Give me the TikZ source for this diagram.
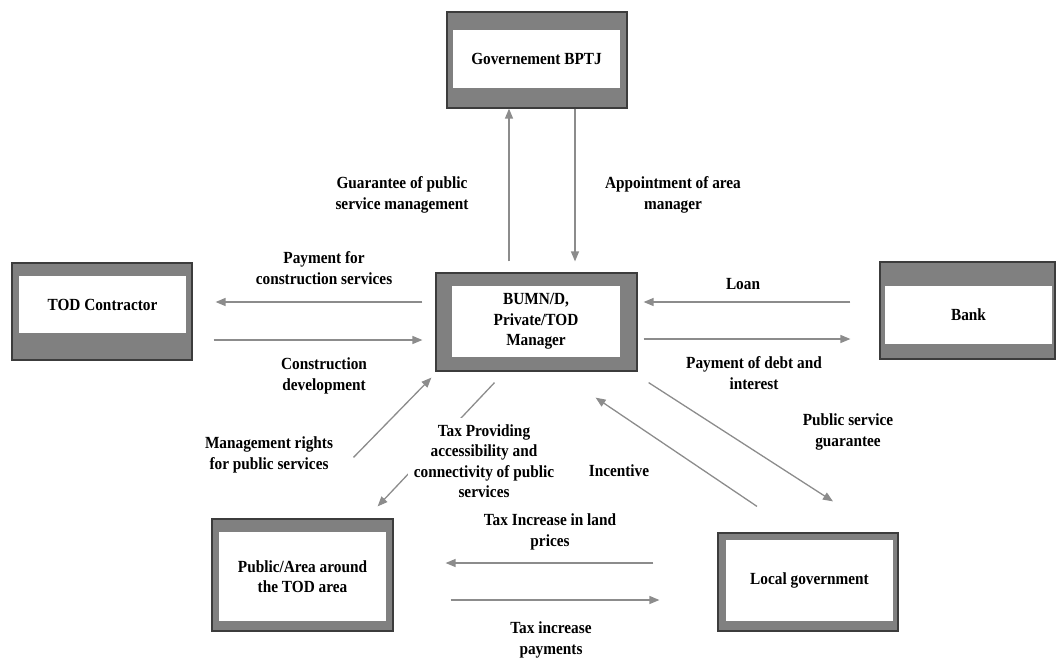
\documentclass[tikz,border=0pt]{standalone}
\usepackage{fontspec}
\setmainfont{Liberation Serif}[FakeStretch=0.9]
\usetikzlibrary{arrows.meta}
\definecolor{boxgray}{RGB}{128,128,128}
\definecolor{edgegray}{RGB}{60,60,60}
\definecolor{flowgray}{RGB}{140,140,140}

\begin{document}
\begin{tikzpicture}[x=1pt, y=-1pt, >={Triangle[length=10pt,width=8pt]},
  outer/.style 2 args={draw=edgegray, line width=1.2pt, fill=boxgray, inner sep=0pt, minimum width=#1, minimum height=#2},
  inner/.style 2 args={fill=white, inner sep=0pt, minimum width=#1, minimum height=#2, align=center, font=\bfseries\fontsize{17}{20.5}\selectfont},
  flow/.style={->, draw=flowgray, line width=1.3pt},
  lbl/.style={align=center, inner sep=1pt, font=\bfseries\fontsize{17}{20.5}\selectfont}]
\useasboundingbox (0,0) rectangle (1056,659);
% boxes
\node[outer={180pt}{96pt}] (gov) at (537,60) {};
\node[inner={167pt}{58pt}] (govtxt) at (536.5,59) {Governement BPTJ};
\node[outer={201pt}{98pt}] (mgr) at (536.5,322) {};
\node[inner={168pt}{71pt}] (mgrtxt) at (536,321.5) {BUMN/D,\\Private/TOD\\Manager};
\node[outer={180pt}{97pt}] (tod) at (102,311.5) {};
\node[inner={167pt}{57pt}] (todtxt) at (102.5,304.5) {TOD Contractor};
\node[outer={175pt}{97pt}] (bank) at (967.5,310.5) {};
\node[inner={167pt}{58pt}] (banktxt) at (968.5,315) {Bank};
\node[outer={181pt}{112pt}] (pub) at (302.5,575) {};
\node[inner={167pt}{89pt}] (pubtxt) at (302.5,576.5) {Public/Area around\\the TOD area};
\node[outer={180pt}{98pt}] (loc) at (808,582) {};
\node[inner={167pt}{81pt}] (loctxt) at (809.5,580.5) {Local government};
% vertical flows
\draw[flow, shorten <=11pt] ([xshift=-28pt]gov.south |- mgr.north) -- ([xshift=-28pt]gov.south);
\draw[flow, shorten >=11pt] ([xshift=38pt]gov.south) -- ([xshift=38pt]gov.south |- mgr.north);
% horizontal flows
\draw[flow, shorten <=13pt, shorten >=23pt] ([yshift=20pt]mgr.west) -- ([yshift=20pt]mgr.west -| tod.east);
\draw[flow, shorten <=21pt, shorten >=13pt] ([yshift=-18pt]mgr.west -| tod.east) -- ([yshift=-18pt]mgr.west);
\draw[flow, shorten <=29pt, shorten >=6pt] ([yshift=20pt]mgr.east -| bank.west) -- ([yshift=20pt]mgr.east);
\draw[flow, shorten <=6pt, shorten >=29pt] ([yshift=-17pt]mgr.east) -- ([yshift=-17pt]mgr.east -| bank.west);
% diagonal flows
\draw[flow] ([shift={(51pt,61pt)}]pub.north) -- ([shift={(-4pt,-6pt)}]mgr.south west);
\draw[flow] ([shift={(-42pt,-11pt)}]mgr.south) -- ([shift={(-16pt,12pt)}]pub.north east);
\draw[flow] ([shift={(11pt,-11pt)}]mgr.south east) -- ([shift={(25pt,31pt)}]loc.north);
\draw[flow] ([shift={(-51pt,26pt)}]loc.north) -- ([shift={(-42pt,-26pt)}]mgr.south east);
% bottom flows
\draw[flow, shorten <=64pt, shorten >=52pt] ([yshift=19pt]loc.west) -- ([yshift=19pt]loc.west -| pub.east);
\draw[flow, shorten <=57pt, shorten >=58pt] ([yshift=-18pt]loc.west -| pub.east) -- ([yshift=-18pt]loc.west);
% labels
\node[lbl] (l-guar) at (402,195) {Guarantee of public\\service management};
\node[lbl] (l-appt) at (673,195) {Appointment of area\\manager};
\node[lbl] (l-pay) at (324,268) {Payment for\\construction services};
\node[lbl] (l-cons) at (324,376) {Construction\\development};
\node[lbl] (l-loan) at (743,284) {Loan};
\node[lbl] (l-debt) at (754,373) {Payment of debt and\\interest};
\node[lbl] (l-psg) at (848,432) {Public service\\guarantee};
\node[lbl] (l-inc) at (619,471) {Incentive};
\node[lbl] (l-mgmt) at (269,455) {Management rights\\for public services};
\node[lbl, fill=white, inner sep=6pt] (l-tax) at (484,461) {Tax Providing\\accessibility and\\connectivity of public\\services};
\node[lbl] (l-land) at (550,532) {Tax Increase in land\\prices};
\node[lbl] (l-paym) at (551,640) {Tax increase\\payments};
\end{tikzpicture}
\end{document}
